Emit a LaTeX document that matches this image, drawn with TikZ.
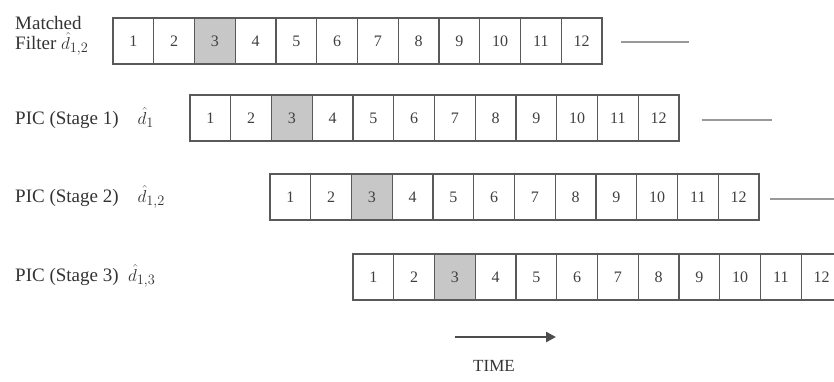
\documentclass[tikz,border=0pt]{standalone}
\usepackage{fontspec}
\setmainfont{Liberation Serif}
\usetikzlibrary{arrows.meta}
\definecolor{edge}{gray}{0.35}
\definecolor{shade}{gray}{0.78}
\begin{document}
\begin{tikzpicture}[x=1pt,y=-1pt,
  cell/.style={draw=edge,line width=1.4pt,minimum width=40.75pt,minimum height=46pt,inner sep=0pt,font=\fontsize{16}{16}\selectfont,text=black!75},
  hicell/.style={cell,fill=shade},
  lbl/.style={anchor=west,inner sep=0pt,font=\fontsize{19}{21}\selectfont,text=black!80,align=left},
  tail/.style={draw=black!40,line width=1.3pt},
  timearrow/.style={draw=black!70,line width=2.4pt,-{Triangle[length=10pt,width=10pt]}}]
\clip (0,0) rectangle (834,381);
\fill[white] (0,0) rectangle (834,381);
\foreach \r/\x/\y in {1/113/41,2/190/118,3/270/197,4/353/277}{
  \foreach \i in {1,...,12}{
    \ifnum\i=3
      \node[hicell] (c\r-\i) at ({\x+(\i-0.5)*40.75},\y) {\i};
    \else
      \node[cell] (c\r-\i) at ({\x+(\i-0.5)*40.75},\y) {\i};
    \fi
  }
}
\node[lbl] (l1a) at (15,23) {Matched};
\node[lbl] (l1b) at (15,44) {Filter $\hat{d}_{1,2}$};
\node[lbl] (l2) at (15,118) {PIC (Stage 1)\quad$\hat{d}_{1}$};
\node[lbl] (l3) at (15,197) {PIC (Stage 2)\quad$\hat{d}_{1,2}$};
\node[lbl] (l4) at (15,276) {PIC (Stage 3)\enspace$\hat{d}_{1,3}$};
\coordinate (e1) at ([xshift=86pt,yshift=-1pt]c1-12.east);
\coordinate (e2) at ([xshift=92pt,yshift=-2pt]c2-12.east);
\coordinate (e3) at ([xshift=80pt,yshift=-2pt]c3-12.east);
\draw[tail] ([xshift=18pt,yshift=-1pt]c1-12.east) -- (e1);
\draw[tail] ([xshift=22pt,yshift=-2pt]c2-12.east) -- (e2);
\draw[tail] ([xshift=10pt,yshift=-2pt]c3-12.east) -- (e3);
\coordinate (ta) at (455,337);
\coordinate (tb) at (556,337);
\draw[timearrow] (ta) -- (tb);
\node[font=\fontsize{17}{17}\selectfont,text=black!80] (time) at (494,366) {TIME};
\end{tikzpicture}
\end{document}
